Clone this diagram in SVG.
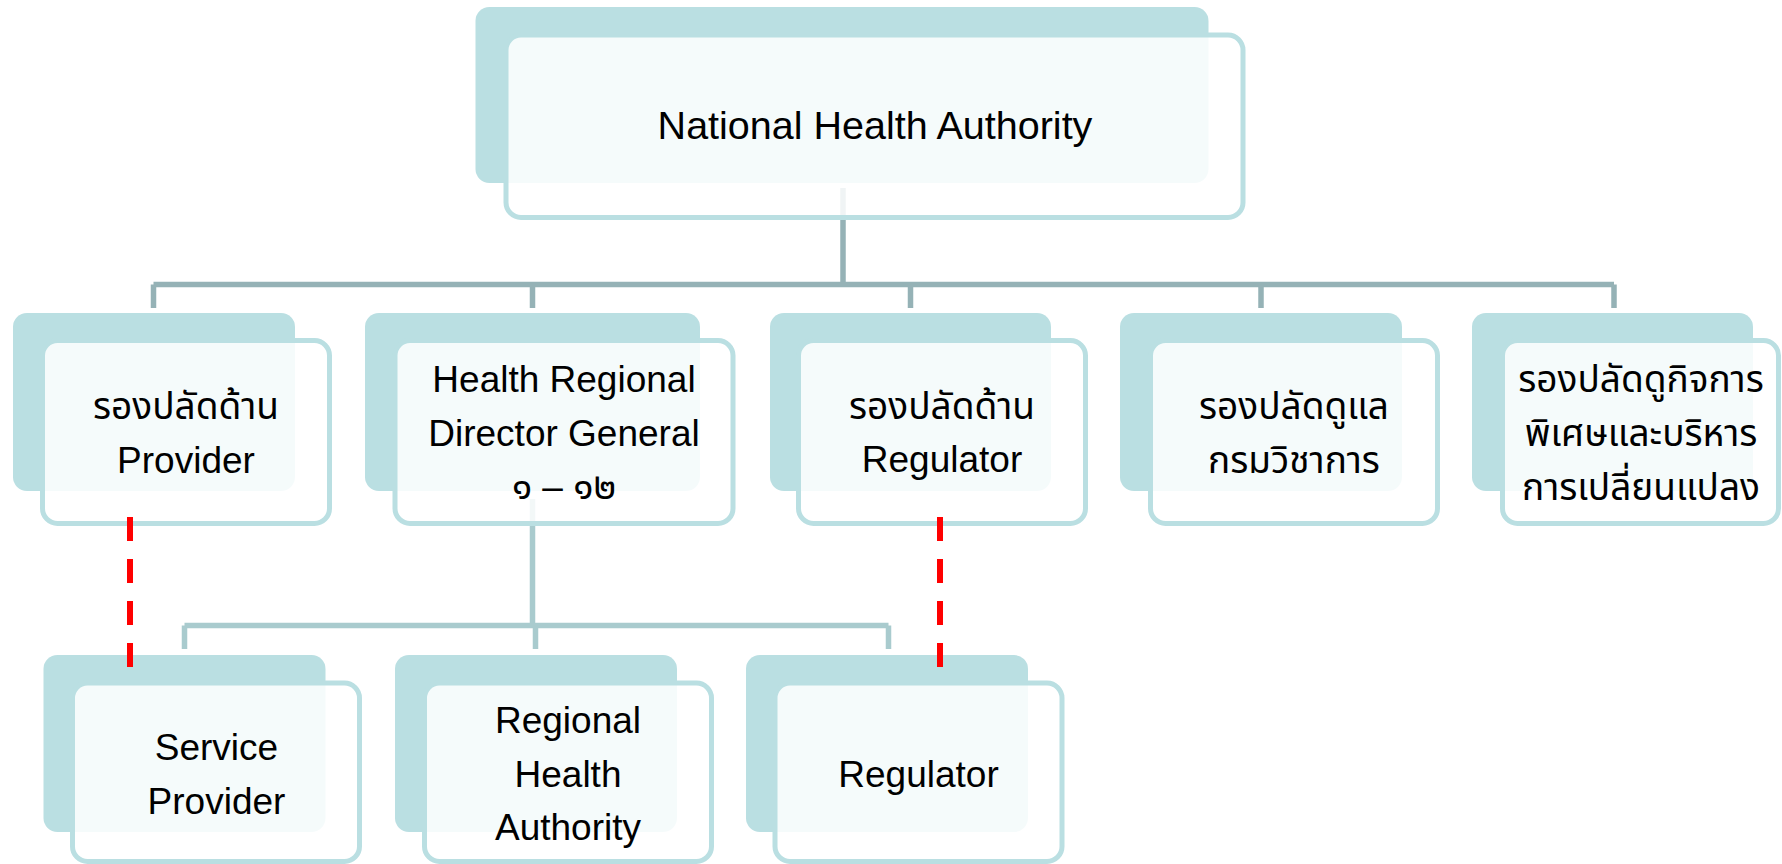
<svg xmlns="http://www.w3.org/2000/svg" width="1782" height="864" viewBox="0 0 1782 864">
<style>
.back{fill:#BADFE2}
.front{fill:#FFFFFF;fill-opacity:0.86;stroke:#BADFE2;stroke-width:5}
.t{font-family:"Liberation Sans","Noto Sans Thai","Noto Sans","DejaVu Sans",sans-serif;font-size:37px;fill:#000000;text-anchor:middle}
.c1{stroke:#95B2B6;stroke-width:5.5;fill:none}
.c2{stroke:#A9CBCE;stroke-width:5.5;fill:none}
.red{stroke:#FF0000;stroke-width:6;stroke-dasharray:24 18;fill:none}
</style>
<rect width="1782" height="864" fill="#FFFFFF"/>
<g id="connectors">
<path class="c1" d="M843 188V284.5M153.5 284.5H1614M153.5 284.5V308M532.5 284.5V308M910.5 284.5V308M1261 284.5V308M1614 284.5V308"/>
<path class="c2" d="M532.5 499V625.5M184.5 625.5H888.5M184.5 625.5V649M535.5 625.5V649M888.5 625.5V649"/>
</g>
<g id="node-nha">
<rect class="back" x="475.5" y="7" width="733" height="176" rx="14"/>
<rect class="front" x="506" y="35" width="737" height="182.5" rx="15"/>
<text class="t" x="875" y="139" style="font-size:39.5px">National Health Authority</text>
</g>
<g id="node-provider">
<rect class="back" x="13" y="313" width="282" height="178" rx="14"/>
<rect class="front" x="42.5" y="340.5" width="287" height="183" rx="15"/>
<text class="t" x="186" y="419">รองปลัดด้าน</text>
<text class="t" x="186" y="473">Provider</text>
</g>
<g id="node-hrdg">
<rect class="back" x="365" y="313" width="335" height="178" rx="14"/>
<rect class="front" x="395" y="340.5" width="338" height="183" rx="15"/>
<text class="t" x="564" y="392">Health Regional</text>
<text class="t" x="564" y="446">Director General</text>
<text class="t" x="564" y="499">๑ – ๑๒</text>
</g>
<g id="node-regulator-deputy">
<rect class="back" x="770" y="313" width="281" height="178" rx="14"/>
<rect class="front" x="798.5" y="340.5" width="287" height="183" rx="15"/>
<text class="t" x="942" y="419">รองปลัดด้าน</text>
<text class="t" x="942" y="472">Regulator</text>
</g>
<g id="node-academic">
<rect class="back" x="1120" y="313" width="282" height="178" rx="14"/>
<rect class="front" x="1150.5" y="340.5" width="287" height="183" rx="15"/>
<text class="t" x="1294" y="419">รองปลัดดูแล</text>
<text class="t" x="1294" y="473">กรมวิชาการ</text>
</g>
<g id="node-special">
<rect class="back" x="1472" y="313" width="281" height="178" rx="14"/>
<rect class="front" x="1502.5" y="340.5" width="276" height="183" rx="15"/>
<text class="t" x="1641" y="392">รองปลัดดูกิจการ</text>
<text class="t" x="1641" y="446">พิเศษและบริหาร</text>
<text class="t" x="1641" y="500">การเปลี่ยนแปลง</text>
</g>
<g id="node-service-provider">
<rect class="back" x="43.5" y="655" width="282" height="177" rx="14"/>
<rect class="front" x="72.5" y="683" width="287" height="178.5" rx="15"/>
<text class="t" x="216.5" y="760">Service</text>
<text class="t" x="216.5" y="814">Provider</text>
</g>
<g id="node-rha">
<rect class="back" x="395" y="655" width="282" height="177" rx="14"/>
<rect class="front" x="424.5" y="683" width="287" height="178.5" rx="15"/>
<text class="t" x="568" y="733">Regional</text>
<text class="t" x="568" y="787">Health</text>
<text class="t" x="568" y="840">Authority</text>
</g>
<g id="node-regulator">
<rect class="back" x="746" y="655" width="282" height="177" rx="14"/>
<rect class="front" x="775" y="683" width="287" height="178.5" rx="15"/>
<text class="t" x="918.5" y="787">Regulator</text>
</g>
<g id="dashed-links">
<path class="red" d="M130 517V667M940 517V667"/>
</g>
</svg>
